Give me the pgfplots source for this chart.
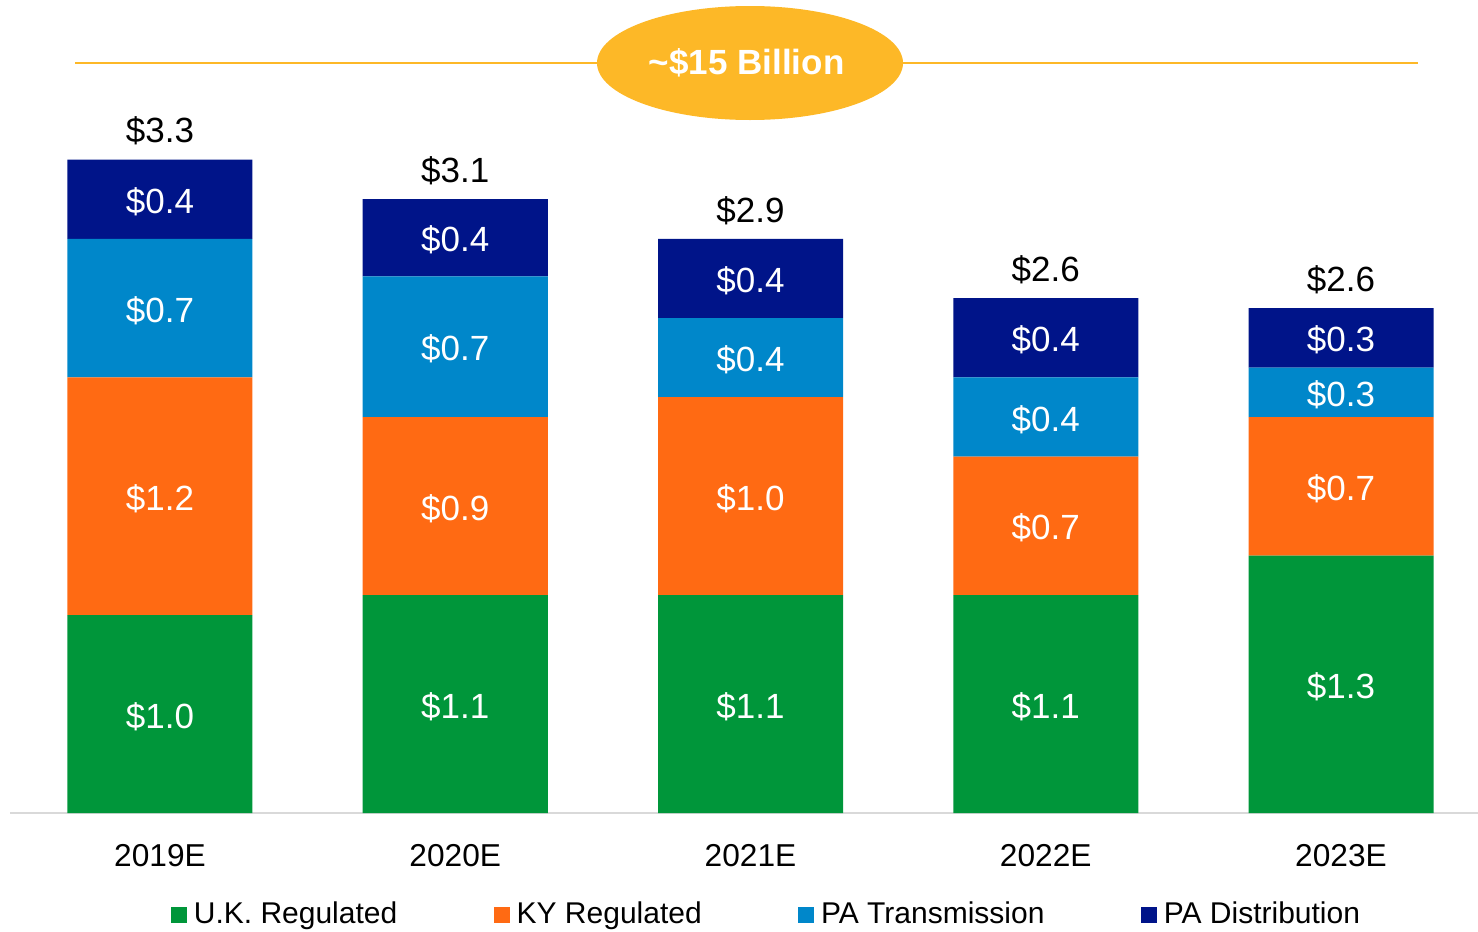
\documentclass[border=0pt]{standalone}
\usepackage{fontspec}
\setmainfont{Liberation Sans}
\usepackage{pgfplots}
\pgfplotsset{compat=1.18}
\usepackage{pgfplotstable}
\definecolor{ukgreen}{HTML}{00963A}
\definecolor{kyorange}{HTML}{FF6A13}
\definecolor{patblue}{HTML}{0087CA}
\definecolor{padnavy}{HTML}{001489}
\definecolor{gold}{HTML}{FDB827}
\definecolor{axisgray}{HTML}{D9D9D9}

\pgfplotstableread{
x uk ky pat pad
0 1.00 1.20 0.70 0.40
1 1.10 0.90 0.71 0.39
2 1.10 1.00 0.40 0.40
3 1.10 0.70 0.40 0.40
4 1.30 0.70 0.25 0.30
}\capex

\pgfplotstableread{
x y label
0 0.500 1.0
0 1.600 1.2
0 2.550 0.7
0 3.100 0.4
1 0.550 1.1
1 1.550 0.9
1 2.355 0.7
1 2.905 0.4
2 0.550 1.1
2 1.600 1.0
2 2.300 0.4
2 2.700 0.4
3 0.550 1.1
3 1.450 0.7
3 2.000 0.4
3 2.400 0.4
4 0.650 1.3
4 1.650 0.7
4 2.125 0.3
4 2.400 0.3
}\seglabels

\pgfplotstableread{
x y label
0 3.449 3.3
1 3.247 3.1
2 3.045 2.9
3 2.747 2.6
4 2.697 2.6
}\totlabels

\begin{document}
\begin{tikzpicture}
\begin{axis}[
  scale only axis, width=440.4pt, height=243.9pt,
  xmin=-0.508, xmax=4.464, ymin=0, ymax=4.1061,
  ybar stacked, bar width=55.5pt,
  axis x line*=bottom, axis y line=none,
  x axis line style={draw=axisgray, line width=0.6pt},
  xtick={0,1,2,3,4},
  xticklabels={2019E,2020E,2021E,2022E,2023E},
  major tick length=0pt, xtick style={draw=none},
  xticklabel style={font=\fontsize{9.5}{11}\selectfont, yshift=-6pt},
  legend columns=4,
  legend style={at={(0.517,-0.1255)}, anchor=center, draw=none, fill=none,
    font=\fontsize{9}{11}\selectfont,
    /tikz/every even column/.append style={column sep=27pt},
    /tikz/every odd column/.append style={column sep=0pt}},
  legend image code/.code={\fill[#1] (0pt,-2.4pt) rectangle (4.8pt,2.4pt);},
  clip=false,
]
\addplot[fill=ukgreen, draw=none] table[x=x, y=uk] \capex;
\addlegendentry{U.K. Regulated}
\addplot[fill=kyorange, draw=none] table[x=x, y=ky] \capex;
\addlegendentry{KY Regulated}
\addplot[fill=patblue, draw=none] table[x=x, y=pat] \capex;
\addlegendentry{PA Transmission}
\addplot[fill=padnavy, draw=none] table[x=x, y=pad] \capex;
\addlegendentry{PA Distribution}
\end{axis}

\begin{axis}[
  scale only axis, width=440.4pt, height=243.9pt,
  xmin=-0.508, xmax=4.464, ymin=0, ymax=4.1061,
  hide axis, clip=false,
]
\addplot[only marks, mark=none, point meta=explicit symbolic,
  nodes near coords={\$\pgfplotspointmeta},
  nodes near coords style={anchor=center, yshift=-0.7pt, text=white, font=\fontsize{10.5}{12}\selectfont}]
  table[x=x, y=y, meta=label] \seglabels;
\addplot[only marks, mark=none, point meta=explicit symbolic,
  nodes near coords={\$\pgfplotspointmeta},
  nodes near coords style={anchor=center, yshift=-0.3pt, text=black, font=\fontsize{10.5}{12}\selectfont}]
  table[x=x, y=y, meta=label] \totlabels;
\end{axis}

\draw[gold, line width=0.6pt] (19.5pt,225pt) -- (422.4pt,225pt);
\fill[gold] (222pt,225pt) ellipse [x radius=45.9pt, y radius=17.1pt];
\node[text=white, font=\bfseries\fontsize{10.5}{12}\selectfont] at (221pt,225pt) {\textasciitilde\$15 Billion};

\pgfresetboundingbox
\path[use as bounding box] (-3pt,-35.4pt) rectangle (440.4pt,243.9pt);
\end{tikzpicture}
\end{document}
